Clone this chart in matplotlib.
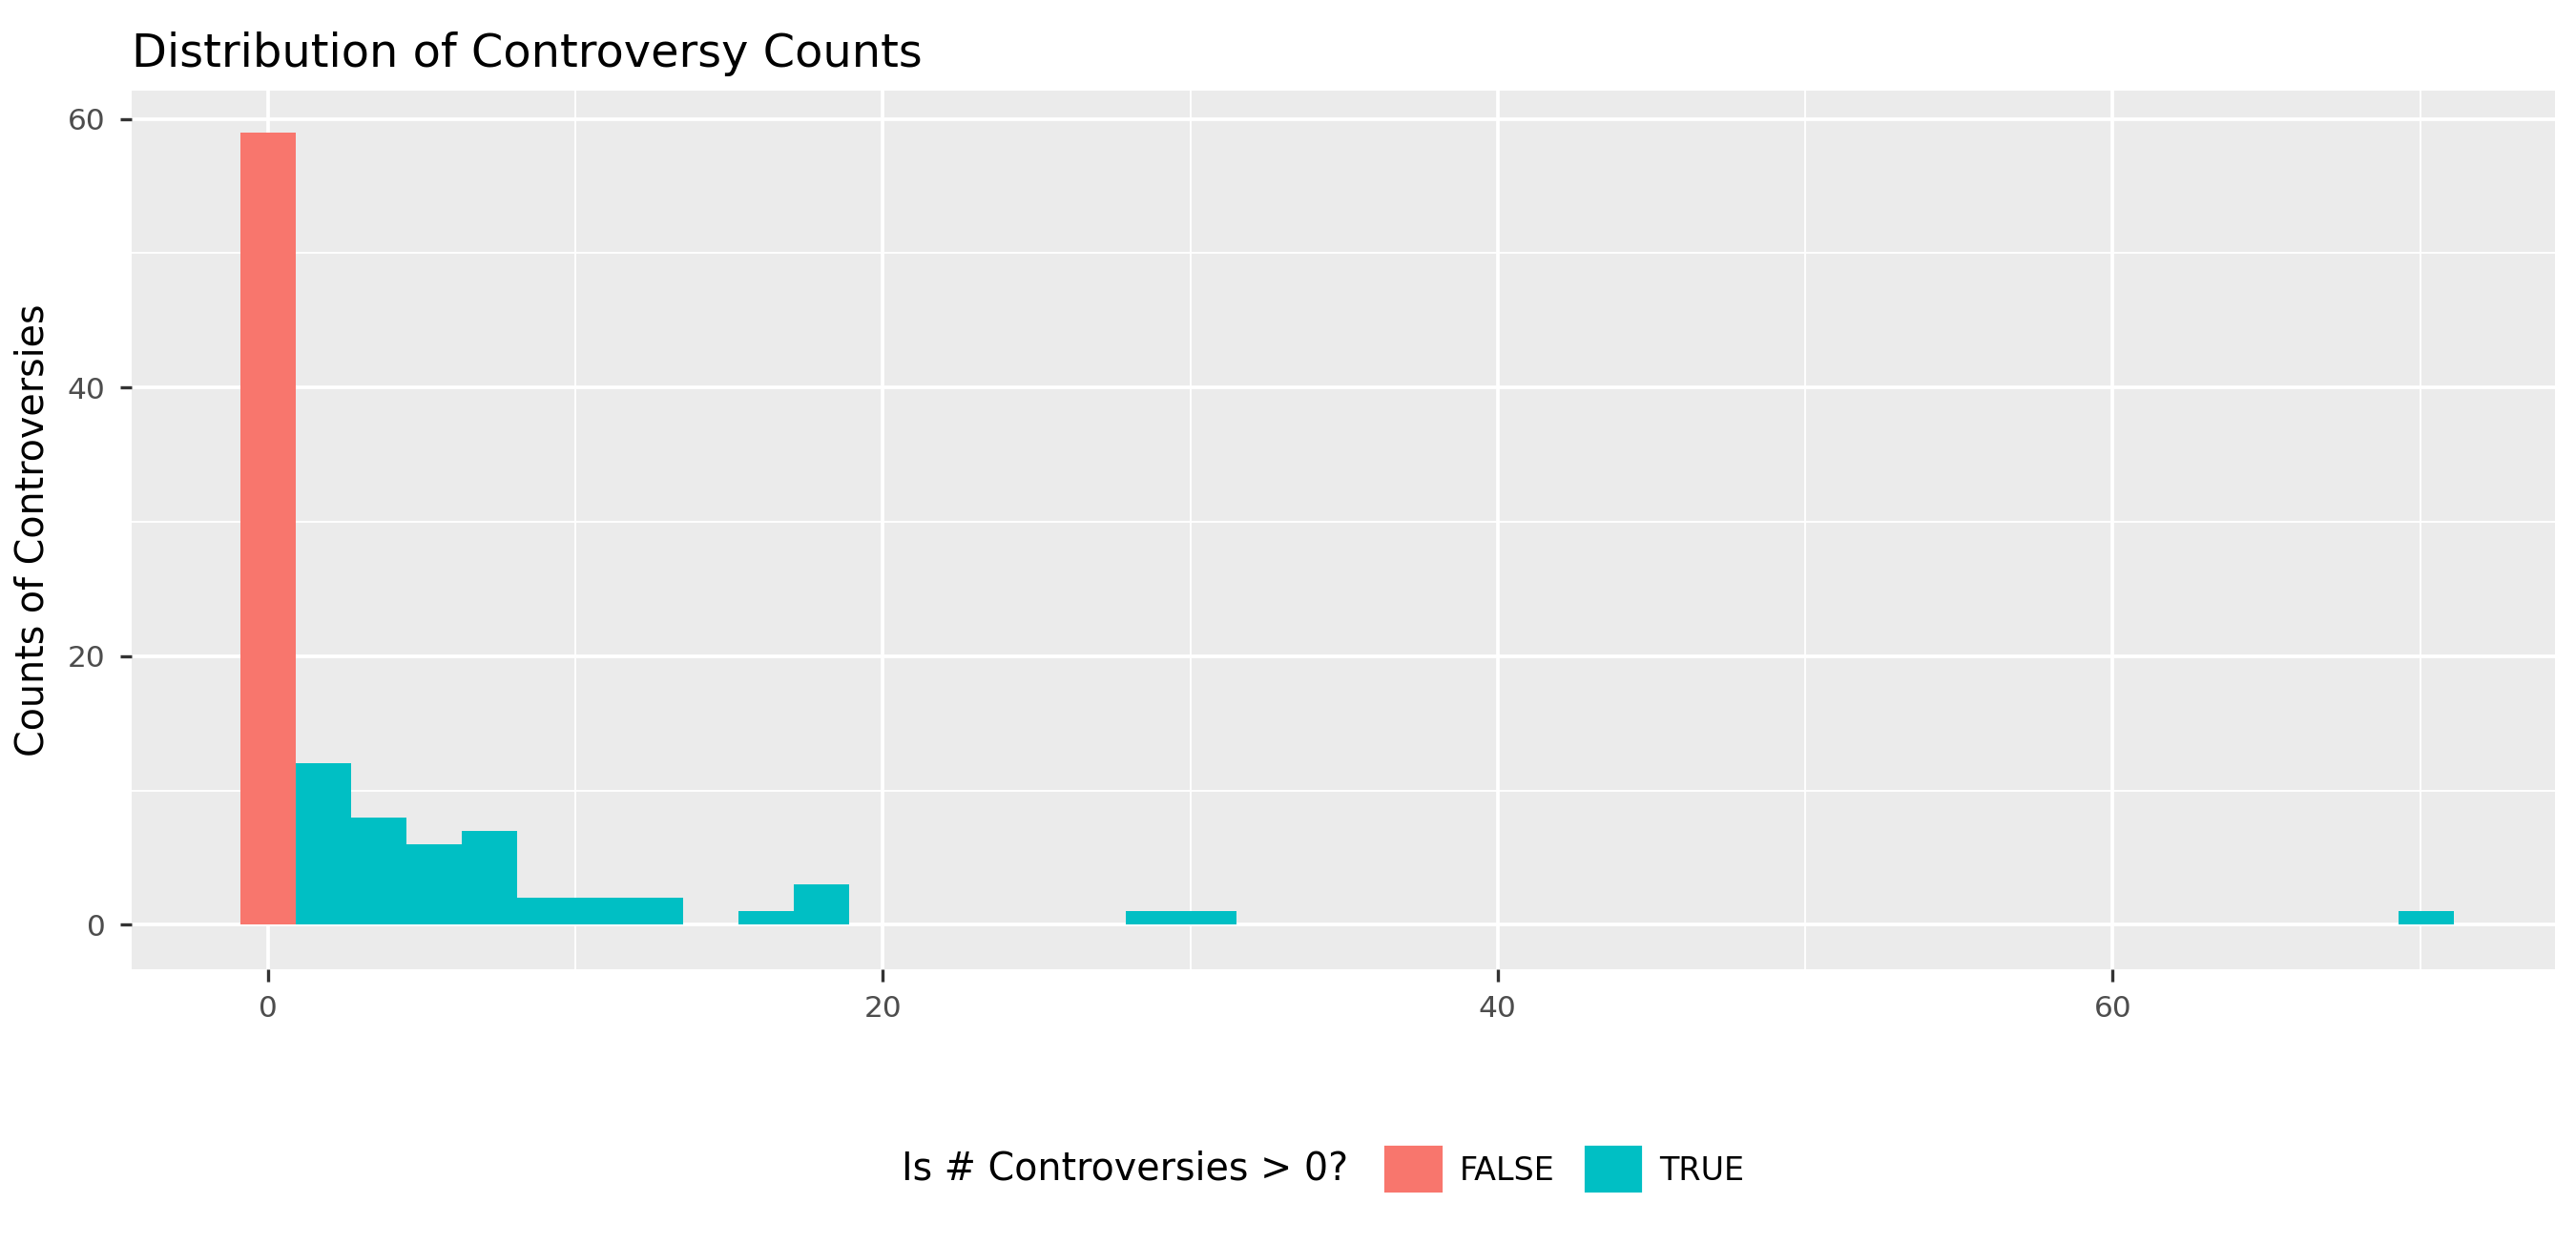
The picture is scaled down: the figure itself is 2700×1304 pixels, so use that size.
import numpy as np
import matplotlib.pyplot as plt
from matplotlib.patches import Patch

binwidth = 1.8
first_edge = -0.9
false_bins = [0]
false_counts = [59]
true_bins = [1, 2, 3, 4, 5, 6, 7, 9, 10, 16, 17, 39]
true_counts = [12, 8, 6, 7, 2, 2, 2, 1, 3, 1, 1, 1]

red = '#F8766D'
teal = '#00BFC4'

fig = plt.figure(figsize=(9, 4.347), dpi=300)
ax = fig.add_axes([0.051, 0.221, 0.941, 0.706])
ax.set_facecolor('#EBEBEB')

for bins, counts, col in [(false_bins, false_counts, red), (true_bins, true_counts, teal)]:
    left = first_edge + np.array(bins) * binwidth
    ax.bar(left, counts, width=binwidth, align='edge', color=col, zorder=3)

ax.set_xlim(-4.44, 74.4)
ax.set_ylim(-3.3, 62.1)
ax.set_xticks([0, 20, 40, 60])
ax.set_yticks([0, 20, 40, 60])
ax.set_xticks([10, 30, 50, 70], minor=True)
ax.set_yticks([10, 30, 50], minor=True)
ax.grid(which='major', color='white', lw=0.9, zorder=0)
ax.grid(which='minor', color='white', lw=0.45, zorder=0)
for s in ax.spines.values():
    s.set_visible(False)
ax.tick_params(which='major', length=3, color='#333333', labelsize=7.5, labelcolor='#4D4D4D')
ax.tick_params(which='minor', length=0)
ax.set_ylabel('Counts of Controversies', fontsize=9.5)
ax.set_title('Distribution of Controversy Counts', fontsize=11.5, loc='left', x=-0.0)

fig.text(0.35, 0.06, 'Is # Controversies > 0?', fontsize=9.5, va='center')
handles = [Patch(color=red, label='FALSE'), Patch(color=teal, label='TRUE')]
fig.legend(handles=handles, loc='center left', bbox_to_anchor=(0.527, 0.06), ncol=2,
           frameon=False, fontsize=8, handlelength=1.7, handleheight=1.7,
           columnspacing=1.0, handletextpad=0.6)

fig.savefig('out.png')
